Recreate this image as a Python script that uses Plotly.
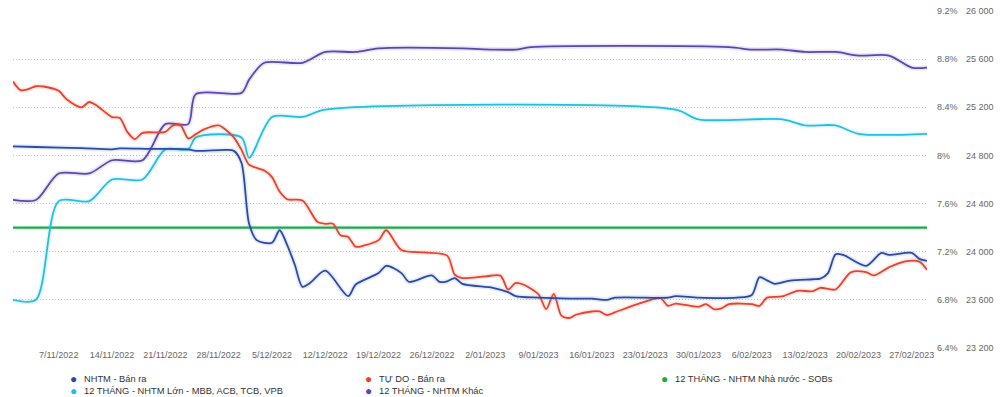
import pandas as pd
import plotly.graph_objects as go

START = pd.Timestamp("2022-11-01")

# ---- data (day offset from 1/11/2022, value) ----
nhtm_days = [0, 3, 9, 13, 14, 18, 23, 24, 28, 29, 30, 31, 32, 34, 35, 36, 37, 38, 39, 41,
             44, 45, 48, 49, 51, 52, 55, 56, 57, 58, 59, 63, 65, 66, 69, 73, 76, 78, 79, 86,
             87, 90, 95, 97, 98, 99, 100, 102, 105, 106, 107, 108, 109, 112, 114, 115, 118, 119, 120]
nhtm_vals = [24875, 24870, 24860, 24851, 24858, 24854, 24851, 24838, 24846, 24838, 24737, 24232, 24096, 24074, 24178, 24055, 23891, 23708, 23740, 23842,
             23631, 23727, 23822, 23883, 23822, 23749, 23803, 23749, 23754, 23781, 23733, 23700, 23664, 23631, 23618, 23610, 23610, 23599, 23618, 23618,
             23631, 23618, 23618, 23640, 23787, 23762, 23733, 23760, 23771, 23776, 23822, 23978, 23973, 23883, 23990, 23973, 23990, 23940, 23924]

tudo_days = [0, 1, 2, 3, 4, 6, 7, 9, 10, 11, 13, 14, 15, 16, 17, 20, 21, 22, 23, 24,
             25, 27, 28, 29, 30, 31, 33, 34, 35, 36, 38, 40, 41, 42, 43, 44, 45, 46, 48, 49,
             51, 54, 57, 58, 59, 62, 64, 65, 66, 67, 69, 70, 71, 72, 73, 74, 76, 77, 78, 79,
             82, 85, 86, 87, 90, 91, 92, 93, 94, 97, 98, 99, 101, 103, 105, 106, 108, 110, 112, 113,
             115, 117, 119, 120]
tudo_vals = [25414, 25343, 25351, 25375, 25373, 25337, 25269, 25200, 25244, 25214, 25119, 25113, 24996, 24936, 24988, 24996, 25050, 25050, 24941, 24977,
             25015, 25050, 25010, 24950, 24846, 24723, 24674, 24620, 24500, 24436, 24425, 24246, 24232, 24232, 24137, 24123, 24041, 24050, 24096, 24178,
             24014, 23994, 23967, 23809, 23781, 23795, 23801, 23686, 23740, 23727, 23645, 23523, 23650, 23468, 23449, 23478, 23503, 23503, 23473, 23495,
             23564, 23613, 23550, 23569, 23542, 23564, 23523, 23528, 23564, 23564, 23550, 23618, 23628, 23675, 23672, 23700, 23686, 23828, 23830, 23803,
             23870, 23918, 23918, 23850]

sobs_days = [0, 120]
sobs_vals = [7.40, 7.40]

lon_days = [0, 3, 6, 10, 13, 17, 20, 23, 24, 30, 31, 34, 38, 41, 87, 90, 101, 104, 108, 111, 120]
lon_vals = [6.80, 6.80, 7.62, 7.62, 7.80, 7.80, 8.05, 8.05, 8.15, 8.15, 7.98, 8.32, 8.32, 8.38, 8.38, 8.30, 8.30, 8.25, 8.25, 8.18, 8.18]

khac_days = [0, 3, 6, 10, 13, 17, 20, 23, 24, 30, 31, 33, 38, 41, 45, 48, 59, 63, 66, 68,
             94, 97, 101, 104, 108, 111, 115, 118, 120]
khac_vals = [7.63, 7.63, 7.85, 7.85, 7.96, 7.96, 8.26, 8.26, 8.51, 8.52, 8.63, 8.77, 8.77, 8.86, 8.86, 8.89, 8.89, 8.88, 8.88, 8.90,
             8.90, 8.88, 8.88, 8.86, 8.86, 8.83, 8.83, 8.73, 8.73]

names = ["NHTM - Bán ra", "TỰ DO - Bán ra", "12 THÁNG - NHTM Nhà nước - SOBs",
         "12 THÁNG - NHTM Lớn - MBB, ACB, TCB, VPB", "12 THÁNG - NHTM Khác"]
colors = ["#2c4a9f", "#e8412c", "#1cab4e", "#22bfe0", "#5848ab"]
glows = ["rgba(90,130,235,0.16)", "rgba(240,90,70,0.13)", "rgba(40,180,90,0.10)",
         "rgba(60,200,235,0.13)", "rgba(150,110,230,0.18)"]

pct_ticks = [6.4, 6.8, 7.2, 7.6, 8.0, 8.4, 8.8, 9.2]
pct_labels = ["6.4%", "6.8%", "7.2%", "7.6%", "8%", "8.4%", "8.8%", "9.2%"]
vnd_ticks = [23200, 23600, 24000, 24400, 24800, 25200, 25600, 26000]
x_ticks = pd.date_range("2022-11-07", "2023-02-27", freq="7D")


def to_dates(days):
    return [START + pd.Timedelta(days=d) for d in days]


series = [
    (nhtm_days, nhtm_vals, "y2"),
    (tudo_days, tudo_vals, "y2"),
    (sobs_days, sobs_vals, "y"),
    (lon_days, lon_vals, "y"),
    (khac_days, khac_vals, "y"),
]

fig = go.Figure()
draw_order = [2, 3, 4, 1, 0]
for i in draw_order:
    d, v, ax = series[i]
    x = to_dates(d)
    fig.add_trace(go.Scatter(x=x, y=v, yaxis=ax, mode="lines", showlegend=False,
                             hoverinfo="skip",
                             line=dict(color=glows[i], width=5, shape="spline", smoothing=0.8)))
    fig.add_trace(go.Scatter(x=x, y=v, yaxis=ax, mode="lines", name=names[i], showlegend=False,
                             line=dict(color=colors[i], width=2.4 if i == 2 else 1.8,
                                       shape="spline", smoothing=0.8)))

FONT = "Liberation Sans, Arial, sans-serif"
TICKFONT = dict(size=9, color="#666", family=FONT)

fig.update_layout(
    width=1000, height=397,
    margin=dict(l=13, r=72, t=6, b=49),
    paper_bgcolor="white", plot_bgcolor="white",
    separators=". ",
    font=dict(family=FONT, size=9, color="#666"),
    showlegend=False,
    xaxis=dict(range=[START, START + pd.Timedelta(days=120)], tickvals=list(x_ticks),
               tickformat="%-d/%m/%Y", tickangle=0, showgrid=False, zeroline=False,
               showline=False, ticks="", tickfont=TICKFONT, fixedrange=True),
    yaxis=dict(side="right", range=[6.3995, 9.2005], tickvals=pct_ticks, ticktext=pct_labels,
               showgrid=True, gridcolor="#c8c8c8", griddash="1px,2px", gridwidth=1,
               zeroline=False, showline=False, ticks="", ticklabelstandoff=9,
               tickfont=TICKFONT),
    yaxis2=dict(overlaying="y", side="right", anchor="free", position=1, shift=29,
                range=[23199.5, 26000.5], tickvals=vnd_ticks, tickformat=",d",
                showgrid=False, zeroline=False, showline=False, ticks="",
                ticklabelstandoff=9, tickfont=TICKFONT),
)

# legend drawn as text entries (3 columns)
leg_x = [74, 369.3, 665.7, 74, 369.3]
leg_y = [379.5, 379.5, 379.5, 392, 392]
pw, ph = 1000 - 13 - 72, 397 - 6 - 49
for i in range(5):
    xp = (leg_x[i] - 13) / pw
    yp = (397 - 49 - leg_y[i]) / ph
    fig.add_annotation(x=xp, y=yp, xref="paper", yref="paper", text="●", showarrow=False,
                       xanchor="center", yanchor="middle",
                       font=dict(size=12, color=colors[i], family=FONT))
    fig.add_annotation(x=(leg_x[i] + 8.5 - 13) / pw, y=yp, xref="paper", yref="paper",
                       text=names[i], showarrow=False, xanchor="left", yanchor="middle",
                       font=dict(size=9.3, color="#333", family=FONT))

fig.write_html("out.html", config={"displayModeBar": False},
               post_script="document.body.style.margin='0';document.body.style.overflow='hidden';")
